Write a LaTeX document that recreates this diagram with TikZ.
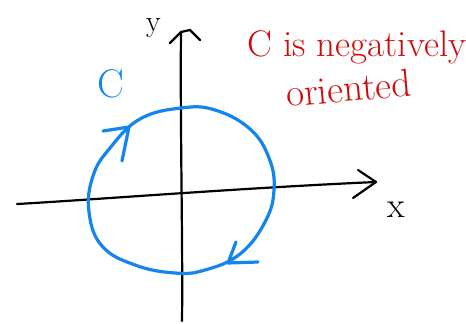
\documentclass[tikz,border=0pt]{standalone}
\usepackage{tikz}
\usepackage{xcolor}

\definecolor{penblue}{RGB}{20,132,238}
\definecolor{penred}{RGB}{206,12,12}

\begin{document}
\begin{tikzpicture}[x=1pt, y=-1pt, line cap=round, line join=round,
    axis/.style={black, line width=2.2pt},
    curve/.style={penblue, line width=3.2pt},
    scrawl/.style={inner sep=0pt, anchor=base west}]
    % Fix the page to the 466 x 324 frame
    \useasboundingbox (0,0) rectangle (466,324);

    % End points of the hand drawn axes
    \coordinate (xl) at (17,204);
    \coordinate (xr) at (376,182);
    \coordinate (yb) at (182,321);
    \coordinate (yt) at (181,32);

    % Horizontal axis with open arrowhead
    \draw[axis] (xl) .. controls (90,200) and (240,188) .. (xr);
    \draw[axis] (358,170) -- (xr) -- (353,198);
    % Vertical axis with open arrowhead
    \draw[axis] (yb) .. controls (183,250) and (180,120) .. (yt);
    \draw[axis] (170,43) -- (yt) -- (190,30) -- (200,40);

    % Axis labels
    \node[scrawl, font=\fontsize{30}{36}\selectfont] (ylab) at (146,31) {y};
    \node[scrawl, font=\fontsize{36}{42}\selectfont] (xlab) at (387,217) {x};

    % The curve C, drawn clockwise
    \draw[curve] plot[smooth cycle, tension=0.7] coordinates {
        (181,108) (215,110) (250,129) (269,158) (274,190) (265,222)
        (240,254) (205,270) (175,273) (135,265) (102,246) (89,212)
        (93,176) (110,148) (140,119)};
    % Direction marks on C
    \draw[curve] (103,131) -- (129,127) -- (122,161);
    \draw[curve] (236,242) -- (228,263) -- (258,262);

    % Name of the curve
    \node[scrawl, penblue, font=\fontsize{40}{46}\selectfont] (clab) at (97,97) {C};

    % Note on the orientation
    \node[scrawl, penred, font=\fontsize{37}{44}\selectfont] (note) at (247,56) {C is negatively};
    \node[scrawl, penred, font=\fontsize{39}{46}\selectfont, rotate=5] (note2) at (287,107) {oriented};
\end{tikzpicture}
\end{document}
